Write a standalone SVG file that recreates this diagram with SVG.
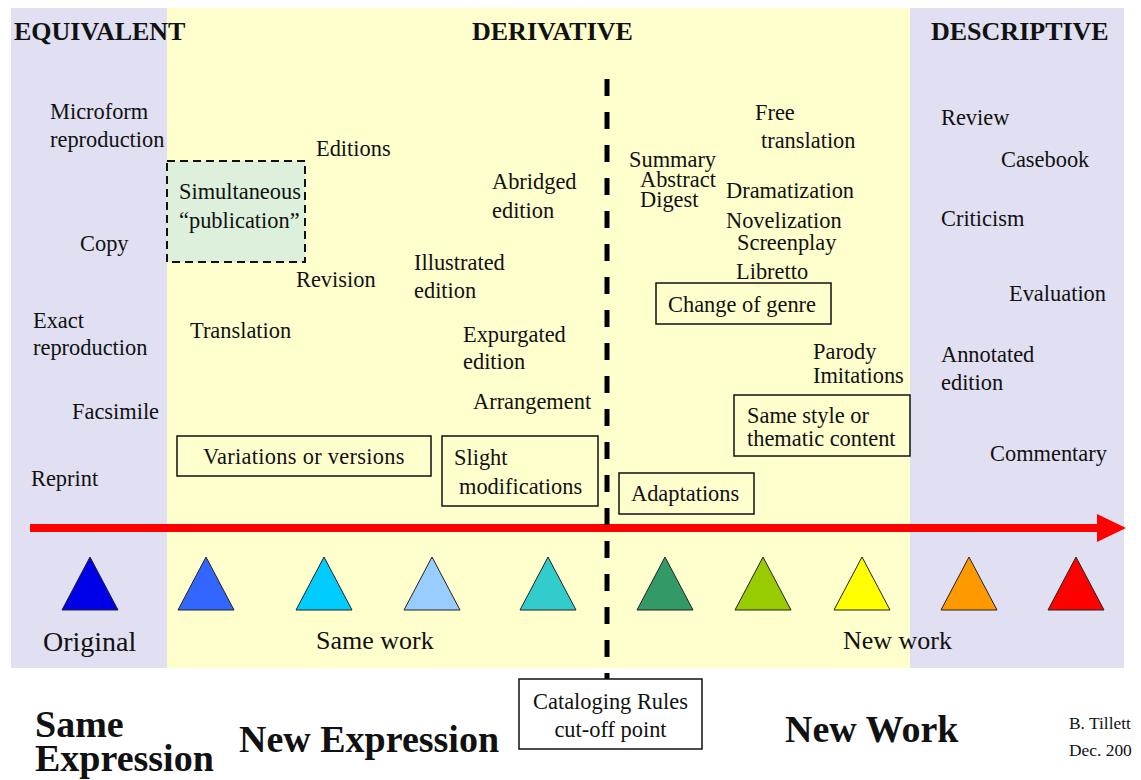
<svg xmlns="http://www.w3.org/2000/svg" width="1141" height="780" viewBox="0 0 1141 780">
  <style>
    text { font-family: "Liberation Serif", "Times New Roman", serif; fill: #111; }
    .t { font-size: 22.4px; }
    .hd { font-size: 26px; font-weight: bold; }
    .big { font-size: 38px; font-weight: bold; }
    .lbl { font-size: 26px; }
    .box { fill: none; stroke: #111; stroke-width: 1.5; }
    .tri { stroke: #222; stroke-width: 1; }
  </style>

  <!-- background bands -->
  <g id="bands">
    <rect x="0" y="0" width="1141" height="780" fill="#ffffff"/>
    <rect id="band-equivalent" x="11" y="8" width="156" height="660" fill="#E0E0F2"/>
    <rect id="band-derivative" x="167" y="8" width="743" height="660" fill="#FFFFCE"/>
    <rect id="band-descriptive" x="910" y="8" width="214" height="660" fill="#E0E0F2"/>
  </g>

  <!-- column headings -->
  <g id="headings">
    <text class="hd" x="14" y="40">EQUIVALENT</text>
    <text class="hd" x="472" y="40">DERIVATIVE</text>
    <text class="hd" x="931" y="40">DESCRIPTIVE</text>
  </g>

  <!-- equivalent items -->
  <g id="node-microform"><text class="t" x="50" y="119">Microform</text><text class="t" x="50" y="147">reproduction</text></g>
  <g id="node-copy"><text class="t" x="80" y="251">Copy</text></g>
  <g id="node-exact"><text class="t" x="33" y="328">Exact</text><text class="t" x="33" y="355">reproduction</text></g>
  <g id="node-facsimile"><text class="t" x="72" y="419">Facsimile</text></g>
  <g id="node-reprint"><text class="t" x="31" y="486">Reprint</text></g>

  <!-- derivative items, same work side -->
  <g id="node-simultaneous">
    <rect x="167" y="161" width="138" height="101" fill="#DDF0DC" stroke="#111" stroke-width="2" stroke-dasharray="8 5"/>
    <text class="t" x="179" y="199">Simultaneous</text>
    <text class="t" x="179" y="228">“publication”</text>
  </g>
  <g id="node-editions"><text class="t" x="316" y="156">Editions</text></g>
  <g id="node-revision"><text class="t" x="296" y="287">Revision</text></g>
  <g id="node-translation"><text class="t" x="190" y="338">Translation</text></g>
  <g id="node-abridged"><text class="t" x="492" y="189">Abridged</text><text class="t" x="492" y="218">edition</text></g>
  <g id="node-illustrated"><text class="t" x="414" y="270">Illustrated</text><text class="t" x="414" y="298">edition</text></g>
  <g id="node-expurgated"><text class="t" x="463" y="342">Expurgated</text><text class="t" x="463" y="369">edition</text></g>
  <g id="node-arrangement"><text class="t" x="473" y="409">Arrangement</text></g>
  <g id="node-variations">
    <rect class="box" x="177" y="436" width="254" height="40"/>
    <text class="t" x="203" y="464" letter-spacing="0.3">Variations or versions</text>
  </g>
  <g id="node-slight">
    <rect class="box" x="442" y="436" width="156" height="70"/>
    <text class="t" x="454" y="465">Slight</text>
    <text class="t" x="459" y="494">modifications</text>
  </g>

  <!-- derivative items, new work side -->
  <g id="node-summary">
    <text class="t" x="629" y="167">Summary</text>
    <text class="t" x="640" y="187">Abstract</text>
    <text class="t" x="640" y="207">Digest</text>
  </g>
  <g id="node-free"><text class="t" x="755" y="120">Free</text><text class="t" x="761" y="148">translation</text></g>
  <g id="node-dramatization"><text class="t" x="726" y="198">Dramatization</text></g>
  <g id="node-novelization"><text class="t" x="726" y="228">Novelization</text></g>
  <g id="node-screenplay"><text class="t" x="737" y="250">Screenplay</text></g>
  <g id="node-libretto"><text class="t" x="736" y="279">Libretto</text></g>
  <g id="node-genre">
    <rect class="box" x="656" y="283" width="175" height="41"/>
    <text class="t" x="668" y="312">Change of genre</text>
  </g>
  <g id="node-parody"><text class="t" x="813" y="359">Parody</text><text class="t" x="813" y="383">Imitations</text></g>
  <g id="node-samestyle">
    <rect class="box" x="734" y="395" width="176" height="61"/>
    <text class="t" x="747" y="423">Same style or</text>
    <text class="t" x="747" y="446">thematic content</text>
  </g>
  <g id="node-adaptations">
    <rect class="box" x="619" y="473" width="135" height="41"/>
    <text class="t" x="631" y="501">Adaptations</text>
  </g>

  <!-- descriptive items -->
  <g id="node-review"><text class="t" x="941" y="125">Review</text></g>
  <g id="node-casebook"><text class="t" x="1001" y="167">Casebook</text></g>
  <g id="node-criticism"><text class="t" x="941" y="226">Criticism</text></g>
  <g id="node-evaluation"><text class="t" x="1009" y="301">Evaluation</text></g>
  <g id="node-annotated"><text class="t" x="941" y="362">Annotated</text><text class="t" x="941" y="390">edition</text></g>
  <g id="node-commentary"><text class="t" x="990" y="461">Commentary</text></g>

  <!-- connectors: spectrum arrow and cut-off line -->
  <g id="connectors">
    <line x1="30" y1="528" x2="1100" y2="528" stroke="#FF0000" stroke-width="8"/>
    <polygon points="1097,514 1126,528 1097,542" fill="#FF0000"/>
    <line x1="607" y1="79" x2="607" y2="679" stroke="#000" stroke-width="5" stroke-dasharray="17 16"/>
  </g>

  <!-- spectrum of relationship markers -->
  <g id="markers">
    <polygon class="tri" points="62,610 90,557 118,610" fill="#0000E8"/>
    <polygon class="tri" points="178,610 206,557 234,610" fill="#3366FF"/>
    <polygon class="tri" points="296,610 324,557 352,610" fill="#00CCFF"/>
    <polygon class="tri" points="404,610 432,557 460,610" fill="#99CCFF"/>
    <polygon class="tri" points="520,610 548,557 576,610" fill="#33CCCC"/>
    <polygon class="tri" points="637,610 665,557 693,610" fill="#339966"/>
    <polygon class="tri" points="735,610 763,557 791,610" fill="#99CC00"/>
    <polygon class="tri" points="834,610 862,557 890,610" fill="#FFFF00"/>
    <polygon class="tri" points="941,610 969,557 997,610" fill="#FF9900"/>
    <polygon class="tri" points="1048,610 1076,557 1104,610" fill="#FF0000"/>
  </g>

  <g id="node-original"><text x="43" y="651" style="font-size:28px">Original</text></g>
  <g id="node-samework"><text class="lbl" x="316" y="649">Same work</text></g>
  <g id="node-newwork"><text class="lbl" x="843" y="649">New work</text></g>

  <!-- cut-off label -->
  <g id="node-cutoff">
    <rect x="519" y="679" width="183" height="70" fill="#ffffff" stroke="#111" stroke-width="1.5"/>
    <text class="t" x="610.5" y="709" text-anchor="middle">Cataloging Rules</text>
    <text class="t" x="610.5" y="737" text-anchor="middle">cut-off point</text>
  </g>

  <!-- bottom captions -->
  <g id="node-same-expression"><text class="big" x="35" y="737">Same</text><text class="big" x="35" y="771">Expression</text></g>
  <g id="node-new-expression"><text class="big" x="239" y="752">New Expression</text></g>
  <g id="node-new-work-caption"><text class="big" x="785" y="742">New Work</text></g>
  <g id="node-credit">
    <text x="1069" y="729" style="font-size:17.4px">B. Tillett</text>
    <text x="1069" y="756" style="font-size:17.4px">Dec. 200</text>
  </g>
</svg>
